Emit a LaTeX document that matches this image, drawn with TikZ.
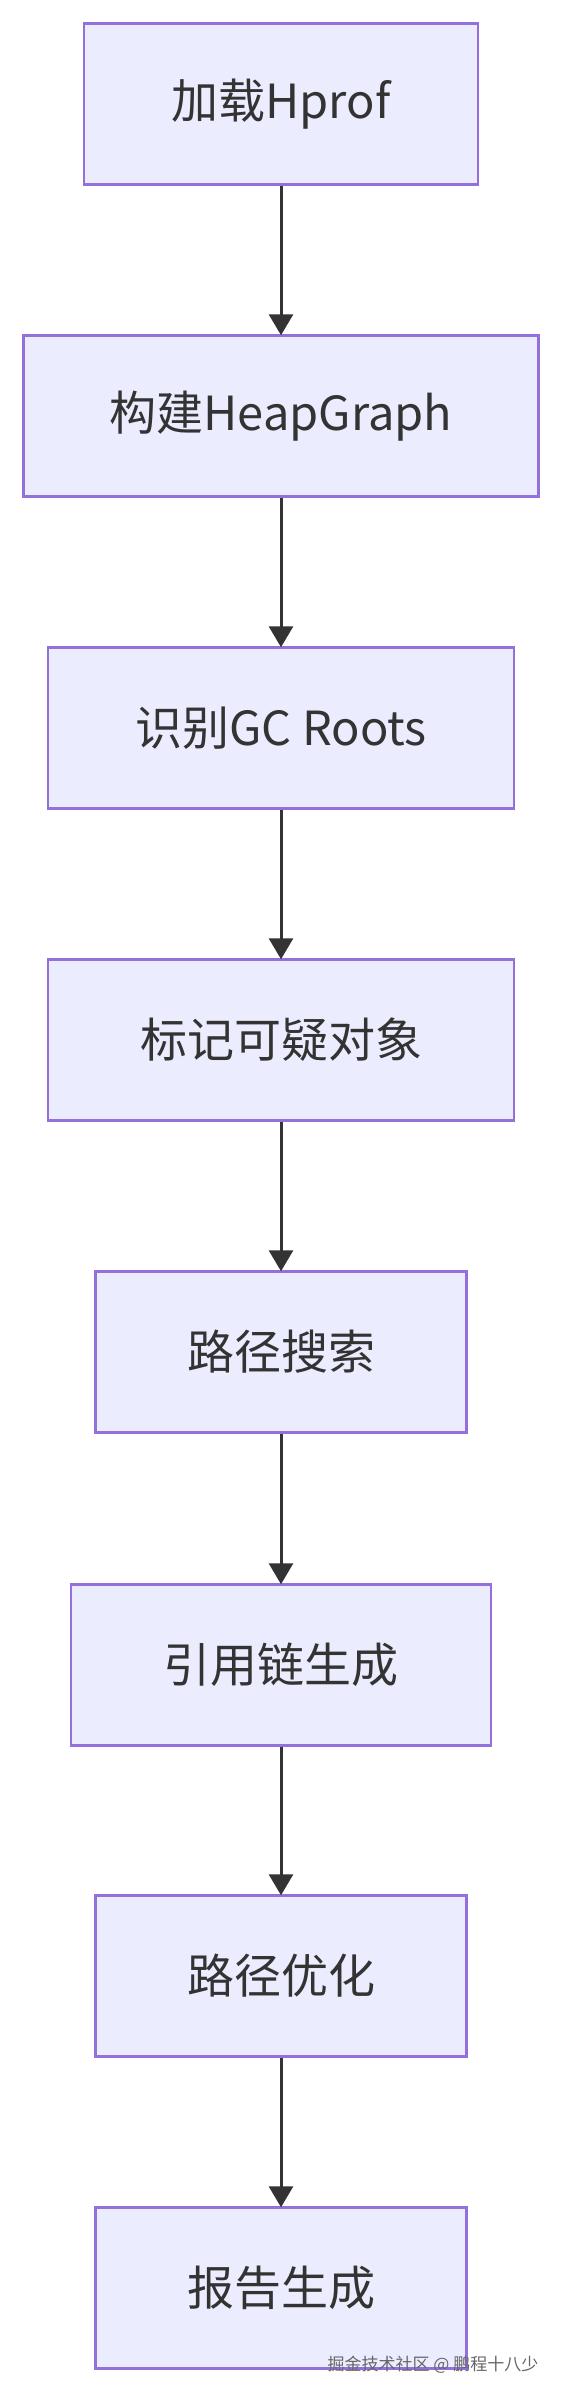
\documentclass[tikz,border=0pt]{standalone}
\usepackage{fontspec}
\setmainfont{Noto Sans CJK SC}
\usetikzlibrary{arrows.meta}
\definecolor{boxfill}{HTML}{ECECFF}
\definecolor{boxline}{HTML}{9370DB}
\definecolor{txt}{HTML}{333333}
\tikzset{
  stepbox/.style={draw=boxline, fill=boxfill, line width=2.5pt, minimum height=161pt, minimum width=#1, inner sep=0pt, text=txt, font=\fontsize{47}{52}\selectfont},
  flow/.style={draw=txt, line width=3pt, -{Triangle[width=24pt,length=21pt]}, shorten >=-1pt},
  watermark/.style={text=black!60, font=\fontsize{17}{20}\selectfont, inner sep=0pt}
}
\begin{document}
\begin{tikzpicture}[x=1pt,y=1pt]
\useasboundingbox[fill=white] (0,0) rectangle (562,-2394);
\node[stepbox=394pt] (n1) at (281,-104) {加载Hprof};
\node[stepbox=515pt] (n2) at (281,-416) {构建HeapGraph};
\node[stepbox=466pt] (n3) at (281,-728) {识别GC Roots};
\node[stepbox=466pt] (n4) at (281,-1040) {标记可疑对象};
\node[stepbox=371pt] (n5) at (281,-1352) {路径搜索};
\node[stepbox=420pt] (n6) at (281,-1665) {引用链生成};
\node[stepbox=371pt] (n7) at (281,-1976) {路径优化};
\node[stepbox=371pt] (n8) at (281,-2288) {报告生成};
\draw[flow] (n1) -- (n2);
\draw[flow] (n2) -- (n3);
\draw[flow] (n3) -- (n4);
\draw[flow] (n4) -- (n5);
\draw[flow] (n5) -- (n6);
\draw[flow] (n6) -- (n7);
\draw[flow] (n7) -- (n8);
\node[watermark] (wm) at (433,-2365) {掘金技术社区 @ 鹏程十八少};
\end{tikzpicture}
\end{document}
